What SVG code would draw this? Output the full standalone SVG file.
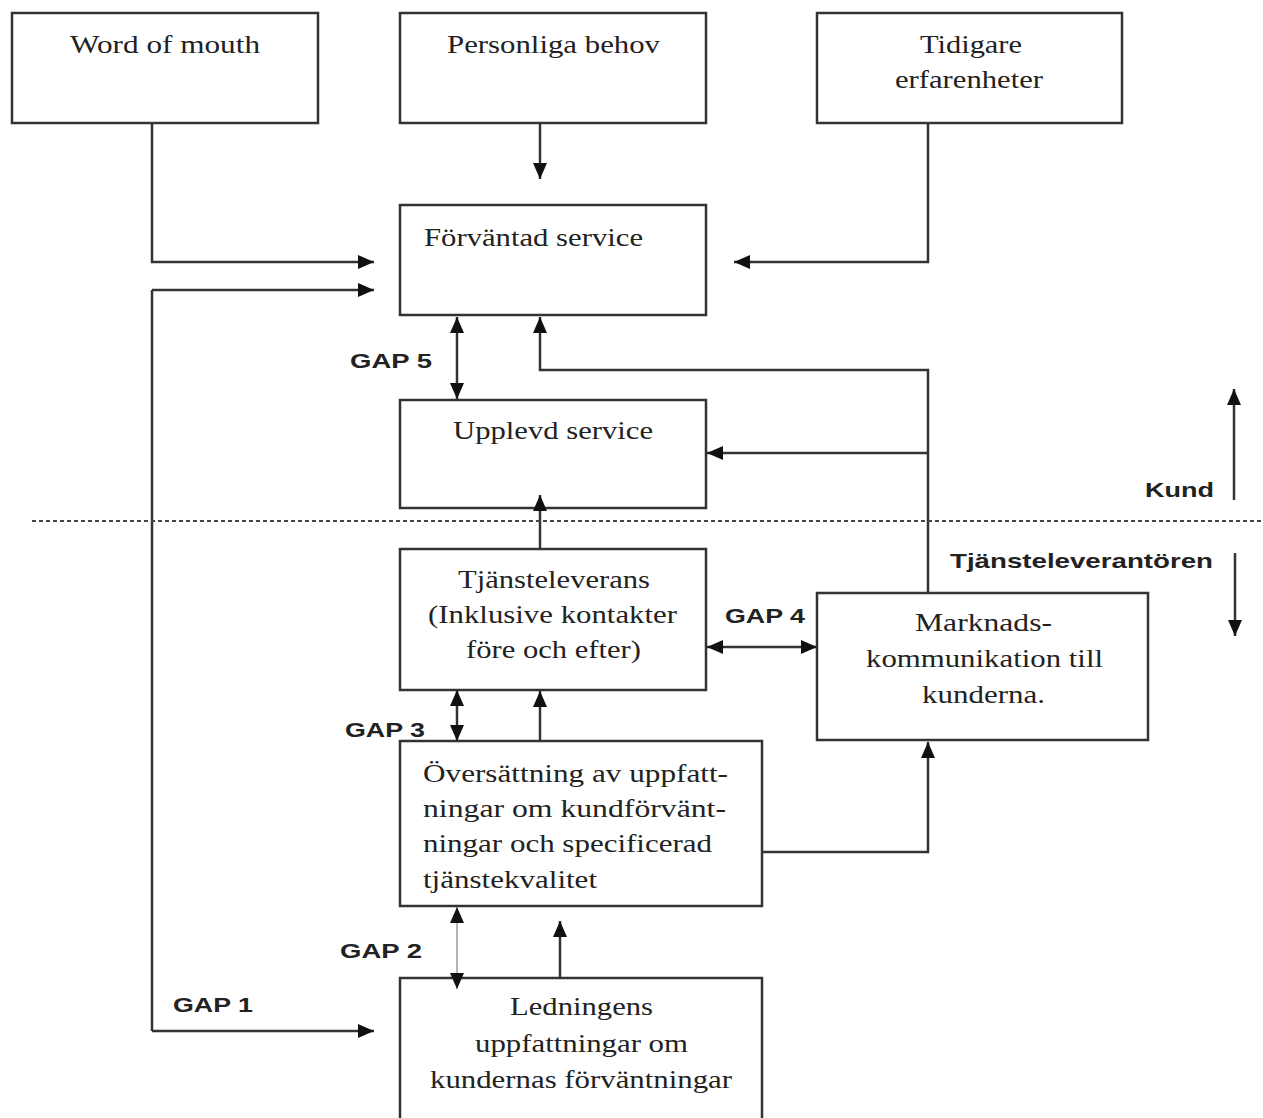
<svg xmlns="http://www.w3.org/2000/svg" width="1263" height="1118" viewBox="0 0 1263 1118">
<defs>
<marker id="ah" viewBox="0 0 16 14" refX="16" refY="7" markerWidth="16" markerHeight="14" markerUnits="userSpaceOnUse" orient="auto-start-reverse">
<path d="M0,0 L16,7 L0,14 Z" fill="#111"/>
</marker>
</defs>
<style>
.box{fill:#fff;stroke:#333;stroke-width:2.5}
.t{font-family:"Liberation Serif","Times New Roman",serif;font-size:25px;fill:#222}
.g{font-family:"Liberation Sans",Arial,sans-serif;font-size:21px;font-weight:bold;fill:#222}
.ln{fill:none;stroke:#333;stroke-width:2.5}
.ar{fill:none;stroke:#333;stroke-width:2.5;marker-end:url(#ah)}
.dar{fill:none;stroke:#333;stroke-width:2.5;marker-end:url(#ah);marker-start:url(#ah)}
</style>
<rect width="1263" height="1118" fill="#fff"/>

<g id="word">
<rect class="box" x="12" y="13" width="306" height="110"/>
<text class="t" x="70" y="53" textLength="190" lengthAdjust="spacingAndGlyphs">Word of mouth</text>
</g>
<g id="personliga">
<rect class="box" x="400" y="13" width="306" height="110"/>
<text class="t" x="447" y="53" textLength="213" lengthAdjust="spacingAndGlyphs">Personliga behov</text>
</g>
<g id="tidigare">
<rect class="box" x="817" y="13" width="305" height="110"/>
<text class="t" x="920" y="53" textLength="102" lengthAdjust="spacingAndGlyphs">Tidigare</text>
<text class="t" x="895" y="88" textLength="148" lengthAdjust="spacingAndGlyphs">erfarenheter</text>
</g>
<g id="forvantad">
<rect class="box" x="400" y="205" width="306" height="110"/>
<text class="t" x="424" y="246" textLength="219" lengthAdjust="spacingAndGlyphs">Förväntad service</text>
</g>
<g id="upplevd">
<rect class="box" x="400" y="400" width="306" height="108"/>
<text class="t" x="453" y="439" textLength="200" lengthAdjust="spacingAndGlyphs">Upplevd service</text>
</g>
<g id="tjansteleverans">
<rect class="box" x="400" y="549" width="306" height="141"/>
<text class="t" x="458" y="588" textLength="192" lengthAdjust="spacingAndGlyphs">Tjänsteleverans</text>
<text class="t" x="428" y="623" textLength="249" lengthAdjust="spacingAndGlyphs">(Inklusive kontakter</text>
<text class="t" x="466" y="658" textLength="175" lengthAdjust="spacingAndGlyphs">före och efter)</text>
</g>
<g id="marknad">
<rect class="box" x="817" y="593" width="331" height="147"/>
<text class="t" x="915" y="631" textLength="137" lengthAdjust="spacingAndGlyphs">Marknads-</text>
<text class="t" x="866" y="667" textLength="237" lengthAdjust="spacingAndGlyphs">kommunikation till</text>
<text class="t" x="922" y="703" textLength="123" lengthAdjust="spacingAndGlyphs">kunderna.</text>
</g>
<g id="oversattning">
<rect class="box" x="400" y="741" width="362" height="165"/>
<text class="t" x="423" y="782" textLength="305" lengthAdjust="spacingAndGlyphs">Översättning av uppfatt-</text>
<text class="t" x="423" y="817" textLength="303" lengthAdjust="spacingAndGlyphs">ningar om kundförvänt-</text>
<text class="t" x="423" y="852" textLength="289" lengthAdjust="spacingAndGlyphs">ningar och specificerad</text>
<text class="t" x="423" y="888" textLength="174" lengthAdjust="spacingAndGlyphs">tjänstekvalitet</text>
</g>
<g id="ledningens">
<rect class="box" x="400" y="978" width="362" height="150"/>
<text class="t" x="510" y="1015" textLength="143" lengthAdjust="spacingAndGlyphs">Ledningens</text>
<text class="t" x="475" y="1052" textLength="213" lengthAdjust="spacingAndGlyphs">uppfattningar om</text>
<text class="t" x="430" y="1088" textLength="302" lengthAdjust="spacingAndGlyphs">kundernas förväntningar</text>
</g>

<g id="connectors">
<path class="ar" d="M152,123 V262 H374"/>
<path class="ln" d="M152,1031 V290"/>
<path class="ar" d="M152,290 H374"/>
<path class="ar" d="M152,1031 H374"/>
<path class="ar" d="M540,123 V179"/>
<path class="ar" d="M928,123 V262 H734"/>
<path class="dar" d="M457,317 V399"/>
<path class="ar" d="M928,593 V370 H540 V317"/>
<path class="ar" d="M928,453 H707"/>
<path class="ar" d="M540,549 V495"/>
<path class="dar" d="M707,647 H817"/>
<path class="dar" d="M457,690 V741"/>
<path class="ar" d="M540,741 V691"/>
<path class="ar" d="M762,852 H928 V742"/>
<path class="dar" d="M457,907 V989" style="stroke:#999;stroke-width:1.5"/>
<path class="ar" d="M560,978 V921"/>
<path class="ar" d="M1234,500 V389"/>
<path class="ar" d="M1235,553 V636"/>
<line x1="32" y1="521" x2="1263" y2="521" stroke="#444" stroke-width="2" stroke-dasharray="4,3"/>
</g>

<g id="labels">
<text class="g" x="350" y="368" textLength="82" lengthAdjust="spacingAndGlyphs">GAP 5</text>
<text class="g" x="725" y="623" textLength="80" lengthAdjust="spacingAndGlyphs">GAP 4</text>
<text class="g" x="345" y="737" textLength="80" lengthAdjust="spacingAndGlyphs">GAP 3</text>
<text class="g" x="340" y="958" textLength="82" lengthAdjust="spacingAndGlyphs">GAP 2</text>
<text class="g" x="173" y="1012" textLength="80" lengthAdjust="spacingAndGlyphs">GAP 1</text>
<text class="g" x="1145" y="497" textLength="69" lengthAdjust="spacingAndGlyphs">Kund</text>
<text class="g" x="950" y="568" textLength="263" lengthAdjust="spacingAndGlyphs">Tjänsteleverantören</text>
</g>
</svg>
